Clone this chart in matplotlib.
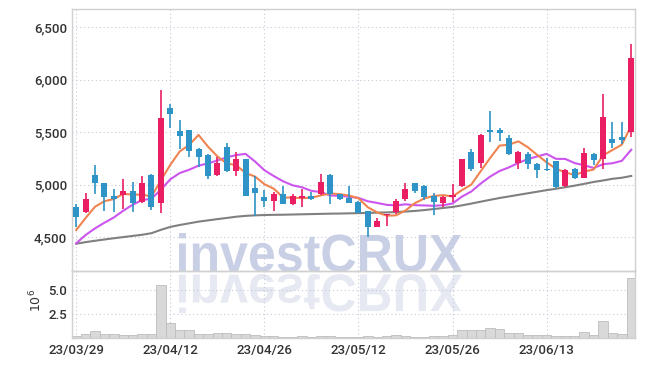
import matplotlib
matplotlib.use('Agg')
import matplotlib.pyplot as plt
import numpy as np
from matplotlib.patches import PathPatch
from matplotlib.textpath import TextPath
from matplotlib.font_manager import FontProperties
from matplotlib.transforms import Affine2D
from matplotlib.ticker import FuncFormatter

# daily candles, 23/03/29 .. 23/06/26
opens = [4790, 4745, 5095, 5015, 4895, 4905, 4940, 4835, 5095, 4825,
         5730, 5515, 5520, 5340, 5280, 5095, 5360, 5135, 5245, 4975,
         4880, 4850, 4915, 4820, 4875, 4895, 4910, 5095, 4910, 4872,
         4840, 4751, 4602, 4710, 4745, 4865, 5015, 4990, 4895, 4830,
         4880, 4985, 5310, 5210, 5520, 5520, 5450, 5205, 5295, 5200,
         5145, 5225, 4985, 5150, 5070, 5295, 5245, 5435, 5455, 5500]
highs = [4820, 4925, 5190, 5020, 4960, 5055, 5025, 5080, 5100, 5900,
         5775, 5615, 5525, 5355, 5290, 5265, 5400, 5310, 5250, 5080,
         4950, 4935, 4990, 4915, 4960, 4935, 5105, 5100, 4915, 4990,
         4845, 4755, 4687, 4720, 4865, 5015, 5020, 4995, 4925, 4895,
         5005, 5250, 5340, 5480, 5705, 5545, 5475, 5325, 5315, 5205,
         5260, 5230, 5155, 5165, 5350, 5300, 5870, 5595, 5595, 6345]
lows = [4600, 4730, 4910, 4755, 4745, 4770, 4745, 4830, 4760, 4730,
        5540, 5340, 5270, 5175, 5055, 5085, 5120, 5080, 4890, 4705,
        4785, 4755, 4815, 4810, 4785, 4860, 4905, 4820, 4860, 4830,
        4730, 4501, 4595, 4610, 4720, 4845, 4920, 4855, 4715, 4790,
        4840, 4980, 5135, 5160, 5405, 5420, 5280, 5150, 5150, 5070,
        5130, 4975, 4980, 5060, 5065, 5190, 5155, 5355, 5385, 5460]
closes = [4690, 4870, 5015, 4885, 4865, 4940, 4830, 5020, 4790, 5640,
          5675, 5470, 5325, 5270, 5085, 5210, 5130, 5245, 4895, 4920,
          4845, 4915, 4820, 4895, 4895, 4865, 5025, 4910, 4865, 4830,
          4735, 4595, 4660, 4715, 4845, 4965, 4945, 4885, 4835, 4880,
          4905, 5245, 5150, 5475, 5505, 5495, 5290, 5310, 5195, 5140,
          5140, 4980, 5140, 5070, 5305, 5235, 5650, 5400, 5425, 6205]

ma5 = [4570, 4685, 4792, 4845, 4865, 4915, 4907, 4908, 4889, 5044,
       5191, 5319, 5380, 5476, 5365, 5272, 5204, 5188, 5113, 5080,
       5007, 4964, 4879, 4879, 4874, 4878, 4900, 4918, 4912, 4899,
       4873, 4787, 4737, 4707, 4710, 4756, 4826, 4871, 4895, 4902,
       4890, 4950, 5003, 5131, 5256, 5374, 5383, 5415, 5359, 5286,
       5215, 5153, 5119, 5094, 5127, 5146, 5280, 5332, 5383, 5563]
ma10 = [4444, 4523, 4586, 4640, 4690, 4754, 4811, 4856, 4868, 4955,
        5053, 5113, 5144, 5183, 5205, 5232, 5262, 5284, 5295, 5223,
        5140, 5084, 5034, 4996, 4977, 4943, 4932, 4899, 4896, 4887,
        4876, 4844, 4828, 4810, 4805, 4815, 4807, 4804, 4801, 4806,
        4823, 4888, 4937, 5013, 5079, 5132, 5167, 5209, 5245, 5271,
        5295, 5248, 5247, 5207, 5187, 5161, 5197, 5206, 5229, 5335]
ma60 = [4440, 4455, 4468, 4480, 4492, 4503, 4514, 4525, 4540, 4572,
        4600, 4618, 4634, 4650, 4662, 4674, 4685, 4697, 4705, 4710,
        4713, 4715, 4716, 4718, 4720, 4722, 4724, 4726, 4727, 4729,
        4731, 4733, 4736, 4738, 4741, 4746, 4752, 4760, 4770, 4780,
        4790, 4805, 4822, 4840, 4858, 4875, 4890, 4905, 4920, 4935,
        4950, 4963, 4978, 4993, 5010, 5028, 5042, 5058, 5068, 5085]

# volume in millions of shares
volume = [0.15, 0.35, 0.7, 0.4, 0.4, 0.25, 0.25, 0.35, 0.4, 5.6,
          1.55, 0.75, 0.75, 0.4, 0.4, 0.5, 0.5, 0.4, 0.4, 0.3,
          0.2, 0.15, 0.1, 0.1, 0.15, 0.1, 0.15, 0.2, 0.1, 0.1,
          0.1, 0.15, 0.1, 0.15, 0.25, 0.15, 0.1, 0.1, 0.15, 0.2,
          0.25, 0.8, 0.8, 0.8, 1.05, 0.95, 0.45, 0.45, 0.3, 0.3,
          0.25, 0.2, 0.15, 0.2, 0.6, 0.3, 1.75, 0.5, 0.4, 6.3]

tick_pos = [0, 10, 20, 30, 40, 50]
tick_labels = ['23/03/29', '23/04/12', '23/04/26', '23/05/12', '23/05/26', '23/06/13']

UP = '#e91e63'
DOWN = '#2e93c6'
GRID = '#c5c9da'
FRAME = '#d0d0d0'
label_font = ['Roboto', 'DejaVu Sans']

W, H = 645, 366
fig = plt.figure(figsize=(W / 100, H / 100), dpi=100)
fig.patch.set_facecolor('white')


def box(l, t, r, b):
    return [l / W, 1 - b / H, (r - l) / W, (b - t) / H]


ax = fig.add_axes(box(72, 9, 635, 271))
axv = fig.add_axes(box(72, 271, 635, 337.5), sharex=ax)

# watermark text with its mirror image, behind both panels
prop = FontProperties(family='Liberation Sans', weight='bold')
tp = TextPath((0, 0), 'investCRUX', size=50, prop=prop)
ext = tp.get_extents()
sx = (462 - 179) / ext.width
sy = 39 / ext.height
up_tr = (Affine2D().translate(-ext.x0, -ext.y0).scale(sx, sy)
         .translate(179, H - 272).scale(1 / W, 1 / H) + fig.transFigure)
dn_tr = (Affine2D().translate(-ext.x0, -ext.y0).scale(sx, -sy)
         .translate(179, H - 274).scale(1 / W, 1 / H) + fig.transFigure)
fig.add_artist(PathPatch(tp, transform=up_tr, facecolor='#c9d0e5', edgecolor='none', zorder=-1))
fig.add_artist(PathPatch(tp, transform=dn_tr, facecolor='#e6e9f2', edgecolor='none', zorder=-1))

x = np.arange(len(closes))
o = np.array(opens)
c = np.array(closes)
colors = [UP if cc >= oo else DOWN for oo, cc in zip(o, c)]
body_low = np.minimum(o, c)
body_h = np.maximum(np.abs(c - o), 10)

for a in (ax, axv):
    a.set_facecolor('none')
    for s in a.spines.values():
        s.set_color(FRAME)
        s.set_linewidth(1)
    a.grid(True, linestyle=(0, (1, 2.5)), color=GRID, linewidth=0.8)
    a.set_axisbelow(True)
    a.tick_params(length=0, colors='#333333')

ax.plot(x, ma60, color='#808080', lw=1.5, zorder=2)
ax.plot(x, ma10, color='#cc55ee', lw=1.5, zorder=2)
ax.plot(x, ma5, color='#ef8450', lw=1.5, zorder=2)
ax.vlines(x, lows, highs, colors=colors, lw=1.2, zorder=3)
ax.bar(x, body_h, bottom=body_low, width=0.64, color=colors, zorder=4)

ax.set_xlim(-0.45, 59.4)
ax.set_ylim(4180, 6675)
ax.set_yticks([4500, 5000, 5500, 6000, 6500])
ax.yaxis.set_major_formatter(FuncFormatter(lambda v, p: f'{v:,.0f}'))
ax.tick_params(axis='x', labelbottom=False)
for t in ax.get_yticklabels():
    t.set_family(label_font)
    t.set_fontsize(9.5)
    t.set_weight('medium')

axv.bar(x, volume, width=1.0, color='#d9d9d9', edgecolor='#bdbdbd', lw=0.6, zorder=2)
axv.set_ylim(0, 7.05)
axv.set_yticks([2.5, 5.0])
axv.set_yticklabels(['2.5', '5.0'])
axv.set_xticks(tick_pos)
axv.set_xticklabels(tick_labels)
for t in axv.get_yticklabels() + axv.get_xticklabels():
    t.set_family(label_font)
    t.set_fontsize(9.5)
    t.set_weight('medium')
axv.tick_params(axis='x', pad=5)
fig.text(36 / W, 1 - 300 / H, r'$10^6$', rotation=90, ha='center', va='center',
         fontsize=9, color='#333333')

fig.savefig('out.png', dpi=100)
